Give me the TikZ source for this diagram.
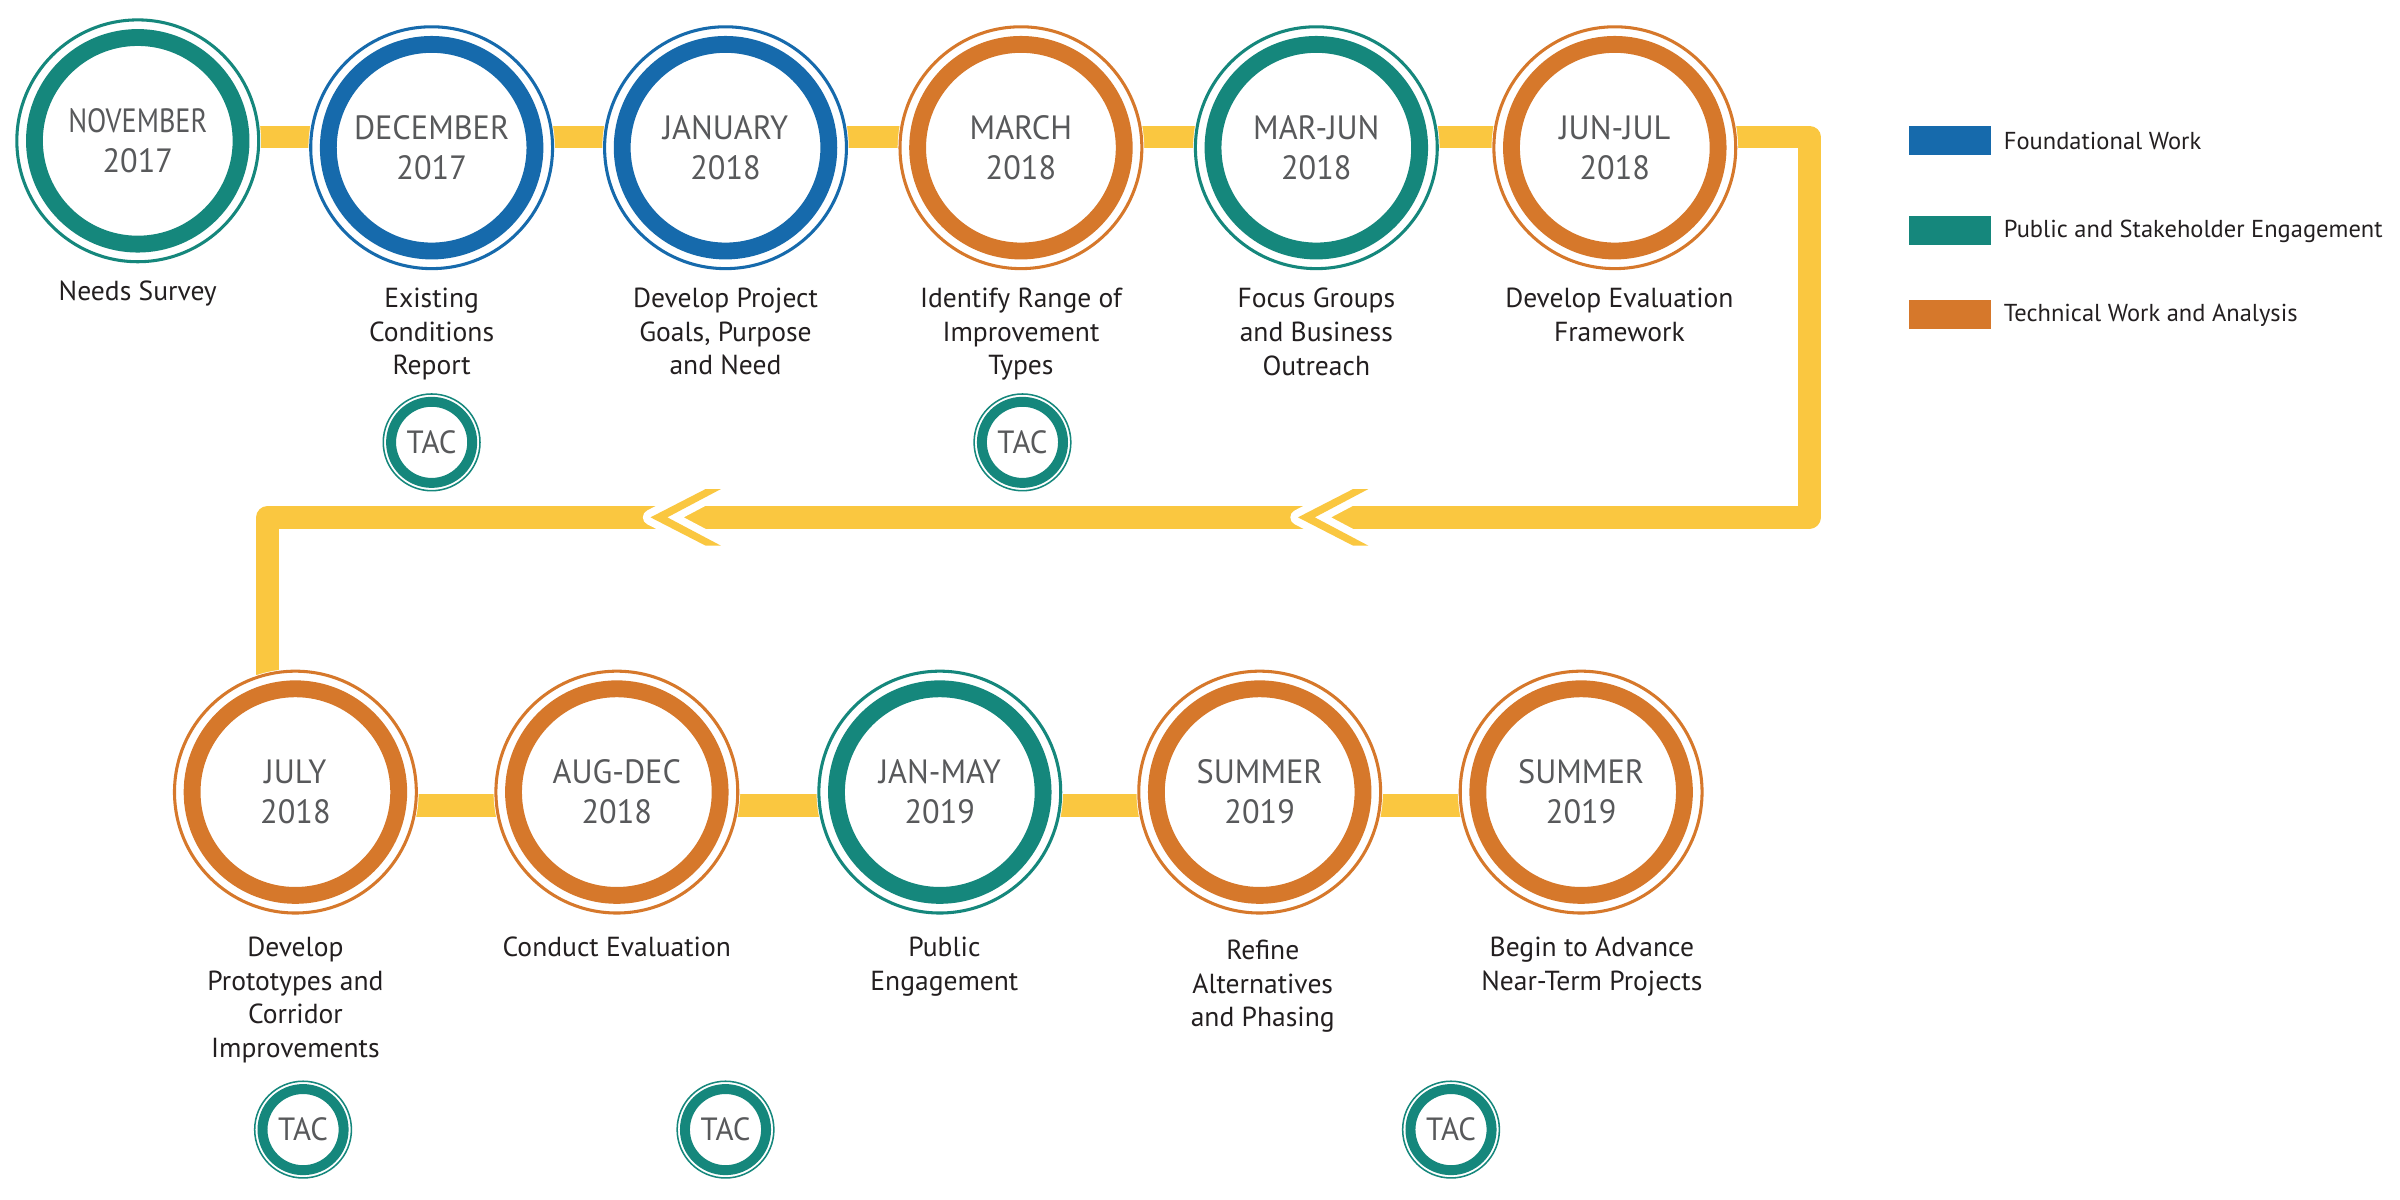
\documentclass[tikz,border=0pt]{standalone}
\usepackage{fontspec}
\usepackage{graphicx}
\setmainfont{PT Sans}
\newfontfamily\monthfont[FakeStretch=0.96]{PT Sans}
\usetikzlibrary{backgrounds}
\definecolor{cTeal}{RGB}{21,135,124}
\definecolor{cBlue}{RGB}{22,106,172}
\definecolor{cOrange}{RGB}{214,120,43}
\definecolor{cYellow}{RGB}{250,199,64}
\definecolor{cGray}{RGB}{88,89,91}
\definecolor{cDark}{RGB}{35,31,32}
\newcommand\mkstage[6]{%
  \fill[white] (#2,#3) circle (80.5pt);
  \node[stage=#4] (#1) at (#2,#3) {#5\\#6};
  \draw[#4, line width=2pt] (#1.center) circle (79pt);
}
\newcommand\mktac[3]{%
  \fill[white] (#2,#3) circle (32.5pt);
  \node[tacnode] (#1) at (#2,#3) {TAC};
  \draw[cTeal, line width=1pt] (#1.center) circle (31.6pt);
}
\begin{document}
\begin{tikzpicture}[x=1pt,y=-1pt,
  stage/.style={circle, draw=#1, line width=11pt, fill=white, minimum size=135pt,
    inner sep=0pt, text=cGray, align=center, font=\monthfont\fontsize{22}{26}\selectfont},
  tacnode/.style={circle, draw=cTeal, line width=6.5pt, fill=white, minimum size=53pt,
    inner sep=0pt, text=cGray, font=\monthfont\fontsize{21}{24}\selectfont},
  lbl/.style={anchor=north, inner sep=0pt, align=center, text=cDark,
    font=\fontsize{18}{22}\selectfont},
  legbox/.style={minimum width=54pt, minimum height=19pt, inner sep=0pt},
  legtxt/.style={anchor=west, inner sep=0pt, text=cDark, font=\fontsize{16}{19}\selectfont},
  road/.style={draw=cYellow, line width=15pt, line join=round},
  chev/.style={fill=cYellow, draw=white, line width=10pt, line join=round}
]
\useasboundingbox (0,0) rectangle (1568,784);

% top row
\mkstage{nov}{90}{92}{cTeal}{\scalebox{0.87}[1]{NOVEMBER}}{2017}
\mkstage{dec}{282}{96.5}{cBlue}{DECEMBER}{2017}
\mkstage{jan}{474}{96.5}{cBlue}{JANUARY}{2018}
\mkstage{mar}{667}{96.5}{cOrange}{MARCH}{2018}
\mkstage{marjun}{860}{96.5}{cTeal}{MAR-JUN}{2018}
\mkstage{junjul}{1055}{96.5}{cOrange}{JUN-JUL}{2018}

% bottom row
\mkstage{july}{193}{517.5}{cOrange}{JULY}{2018}
\mkstage{augdec}{403}{517.5}{cOrange}{AUG-DEC}{2018}
\mkstage{janmay}{614}{517.5}{cTeal}{JAN-MAY}{2019}
\mkstage{suma}{823}{517.5}{cOrange}{SUMMER}{2019}
\mkstage{sumb}{1033}{517.5}{cOrange}{SUMMER}{2019}

% labels
\node[lbl] (lnov) at (90,183) {Needs Survey};
\node[lbl] (ldec) at (282,188) {Existing\\Conditions\\Report};
\node[lbl] (ljan) at (474,188) {Develop Project\\Goals, Purpose\\and Need};
\node[lbl] (lmar) at (667,188) {Identify Range of\\Improvement\\Types};
\node[lbl] (lmarjun) at (860,188) {Focus Groups\\and Business\\Outreach};
\node[lbl] (ljunjul) at (1058,188) {Develop Evaluation\\Framework};

\node[lbl] (ljuly) at (193,612) {Develop\\Prototypes and\\Corridor\\Improvements};
\node[lbl] (laugdec) at (403,612) {Conduct Evaluation};
\node[lbl] (ljanmay) at (617,612) {Public\\Engagement};
\node[lbl] (lsuma) at (825,614) {Refine\\Alternatives\\and Phasing};
\node[lbl] (lsumb) at (1040,612) {Begin to Advance\\Near-Term Projects};

% TAC
\mktac{tac1}{282}{289}
\mktac{tac2}{668}{289}
\mktac{tac3}{198}{738}
\mktac{tac4}{474}{738}
\mktac{tac5}{948}{738}

% legend
\node[legbox, fill=cBlue] (lg1) at (1274,91.5) {};
\node[legbox, fill=cTeal] (lg2) at (1274,150.5) {};
\node[legbox, fill=cOrange] (lg3) at (1274,205.5) {};
\node[legtxt] (lt1) at (1309,92) {Foundational Work};
\node[legtxt] (lt2) at (1309,151) {Public and Stakeholder Engagement};
\node[legtxt] (lt3) at (1309,206) {Technical Work and Analysis};

% road
\begin{scope}[on background layer]
\coordinate (c1) at (1182,89.5);
\coordinate (c2) at (1182,338);
\coordinate (c3) at (175,338);
\draw[road] ([yshift=2.5pt]nov.center) -- (c1) -- (c2) -- (c3) -- (c3 |- july.center);
\draw[road] ([yshift=-8.5pt]july.center) -- ([yshift=-8.5pt]sumb.center);
\end{scope}
% chevrons
\foreach \t/\nm in {425/chA, 848/chB}{
  \coordinate (\nm) at (\t,338);
  \path[chev] (\nm) -- ++(36,-18.5) -- ++(10,0) -- ++(-35,18.5) -- ++(35,18.5) -- ++(-10,0) -- cycle;
  \fill[cYellow] (\nm) -- ++(36,-18.5) -- ++(10,0) -- ++(-35,18.5) -- ++(35,18.5) -- ++(-10,0) -- cycle;
}
\end{tikzpicture}
\end{document}
